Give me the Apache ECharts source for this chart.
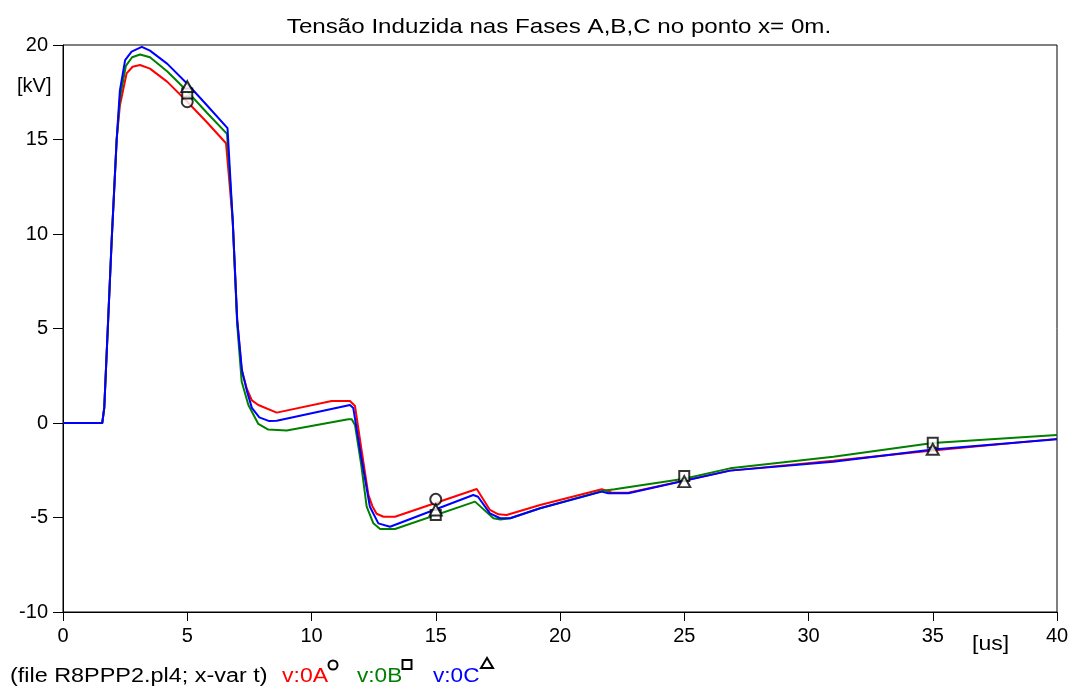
<!DOCTYPE html>
<html>
<head>
<meta charset="utf-8">
<script src="https://cdn.jsdelivr.net/npm/echarts@6/dist/echarts.min.js"></script>
<style>
html,body{margin:0;padding:0;background:#fff;}
#chart{width:1073px;height:690px;}
</style>
</head>
<body>
<div id="chart"></div>
<script>
// ---- data (time in us, voltage in kV) ----
var tA = [0,1.58,1.66,1.96,2.16,2.29,2.56,2.8,3.1,3.5,4.2,5.0,5.8,6.56,6.83,7.01,7.19,7.4,7.6,7.86,8.6,10.81,11.55,11.75,12.0,12.29,12.45,12.62,12.9,13.36,16.65,17.18,17.52,17.85,19.2,21.68,21.88,22.08,22.75,26.84,31,35,40];
var vA = [0,0,0.8,9.7,15.0,16.8,18.5,18.85,18.94,18.75,18.05,17.0,15.9,14.8,10.7,5.45,2.8,1.8,1.2,0.95,0.55,1.16,1.16,0.9,-1.3,-3.8,-4.4,-4.8,-4.96,-4.96,-3.49,-4.6,-4.83,-4.87,-4.34,-3.51,-3.58,-3.69,-3.69,-2.52,-2.0,-1.45,-0.84];

var tB = [0,1.58,1.66,1.96,2.16,2.29,2.53,2.78,3.1,3.5,4.2,5.0,5.8,6.6,6.83,7.01,7.19,7.46,7.86,8.26,9.0,11.48,11.62,11.75,12.0,12.22,12.49,12.76,13.36,16.58,17.32,17.6,18.0,19.2,21.74,22.2,25,26.84,31,35,40];
var vB = [0,0,0.8,9.7,15.0,17.2,18.9,19.35,19.5,19.35,18.6,17.55,16.4,15.3,10.7,5.2,2.2,0.95,-0.05,-0.35,-0.4,0.2,0.2,-0.1,-2.2,-4.43,-5.31,-5.61,-5.61,-4.16,-5.04,-5.1,-5.04,-4.51,-3.58,-3.51,-2.95,-2.4,-1.78,-1.06,-0.63];

var tC = [0,1.58,1.66,1.96,2.16,2.29,2.5,2.76,3.17,3.5,4.2,5.0,5.8,6.62,6.83,7.01,7.2,7.4,7.6,7.9,8.3,8.6,11.55,11.68,12.0,12.35,12.69,13.16,16.51,16.7,17.18,17.59,17.99,19.2,21.68,21.94,22.75,26.84,31,35,40];
var vC = [0,0,0.8,9.7,15.0,17.6,19.2,19.65,19.9,19.7,19.0,17.95,16.8,15.6,10.7,5.45,2.8,1.7,0.8,0.3,0.1,0.12,0.95,0.8,-1.8,-4.43,-5.31,-5.49,-3.81,-3.9,-4.78,-5.04,-5.04,-4.51,-3.63,-3.72,-3.72,-2.52,-2.05,-1.4,-0.86];

// marker positions (as drawn in the reference)
var markT = [5,15,25,35];
var markA = [17.0,-4.04];          // circle (A) only at 5 and 15
var markB = [17.44,-4.87,-2.8,-1.04];
var markC = [17.8,-4.6,-3.1,-1.39];

var xTicks = [0,5,10,15,20,25,30,35,40];
var yTicks = [-10,-5,0,5,10,15,20];

var titleText = 'Tensão Induzida nas Fases A,B,C no ponto x= 0m.';
var footText = '(file R8PPP2.pl4; x-var t)';
var names = ['v:0A','v:0B','v:0C'];
var colors = ['#ff0000','#008000','#0000ff'];

function pairs(t, v){ var r=[]; for (var i=0;i<t.length;i++) r.push([t[i], v[i]]); return r; }

var FONT = 'Liberation Sans, Arial, sans-serif';
var chart = echarts.init(document.getElementById('chart'), null, {renderer:'canvas'});

var markerStyle = {color:'#fff', borderColor:'#000', borderWidth:2};

function txt(text, x, y, size, color, sx, align){
  return {type:'text', x:x, y:y, scaleX:sx, scaleY:1, z:10,
    style:{text:text, font:size+'px '+FONT, fill:color, textAlign:align||'left', textVerticalAlign:'middle'}};
}

chart.setOption({
  animation:false,
  backgroundColor:'#fff',
  grid:{left:63, top:45, right:16, bottom:78, show:true, borderColor:'#000', borderWidth:1, backgroundColor:'transparent'},
  xAxis:{type:'value', min:0, max:40, interval:5,
    axisLine:{show:true, onZero:false, lineStyle:{color:'#000', width:1}},
    axisTick:{show:true, inside:false, length:9, lineStyle:{color:'#000'}},
    axisLabel:{color:'#000', fontFamily:FONT, fontSize:20, margin:14},
    splitLine:{show:false}},
  yAxis:{type:'value', min:-10, max:20, interval:5,
    axisLine:{show:true, onZero:false, lineStyle:{color:'#000', width:1}},
    axisTick:{show:true, inside:false, length:10, lineStyle:{color:'#000'}},
    axisLabel:{color:'#000', fontFamily:FONT, fontSize:20, margin:15},
    splitLine:{show:false}},
  series:[
    {name:names[0], type:'line', data:pairs(tA,vA), showSymbol:false, symbol:'none', color:colors[0], lineStyle:{color:colors[0], width:2}, z:2},
    {name:names[1], type:'line', data:pairs(tB,vB), showSymbol:false, symbol:'none', color:colors[1], lineStyle:{color:colors[1], width:2}, z:3},
    {name:names[2], type:'line', data:pairs(tC,vC), showSymbol:false, symbol:'none', color:colors[2], lineStyle:{color:colors[2], width:2}, z:4},
    {type:'scatter', data:pairs(markT.slice(0,markA.length), markA), symbol:'circle', symbolSize:11, itemStyle:markerStyle, z:5, silent:true},
    {type:'scatter', data:pairs(markT, markB), symbol:'rect', symbolSize:10, itemStyle:markerStyle, z:5, silent:true},
    {type:'scatter', data:pairs(markT, markC), symbol:'triangle', symbolSize:[12,11], itemStyle:markerStyle, z:6, silent:true}
  ],
  graphic:[
    txt(titleText, 559, 27, 21, '#000', 1.15, 'center'),
    txt('[kV]', 17, 86, 20, '#000', 1, 'left'),
    txt('[us]', 972, 644, 20, '#000', 1.15, 'left'),
    txt(footText, 10, 676, 20, '#000', 1.17, 'left'),
    txt(names[0], 282, 676, 20, colors[0], 1.15, 'left'),
    {type:'circle', shape:{cx:333, cy:665, r:4.5}, style:{fill:'none', stroke:'#000', lineWidth:2}},
    txt(names[1], 357, 676, 20, colors[1], 1.13, 'left'),
    {type:'rect', shape:{x:402.5, y:660, width:9, height:9}, style:{fill:'none', stroke:'#000', lineWidth:2}},
    txt(names[2], 433, 676, 20, colors[2], 1.13, 'left'),
    {type:'polygon', shape:{points:[[487,658],[481,668],[493,668]]}, style:{fill:'none', stroke:'#000', lineWidth:2}}
  ]
});
</script>
</body>
</html>
